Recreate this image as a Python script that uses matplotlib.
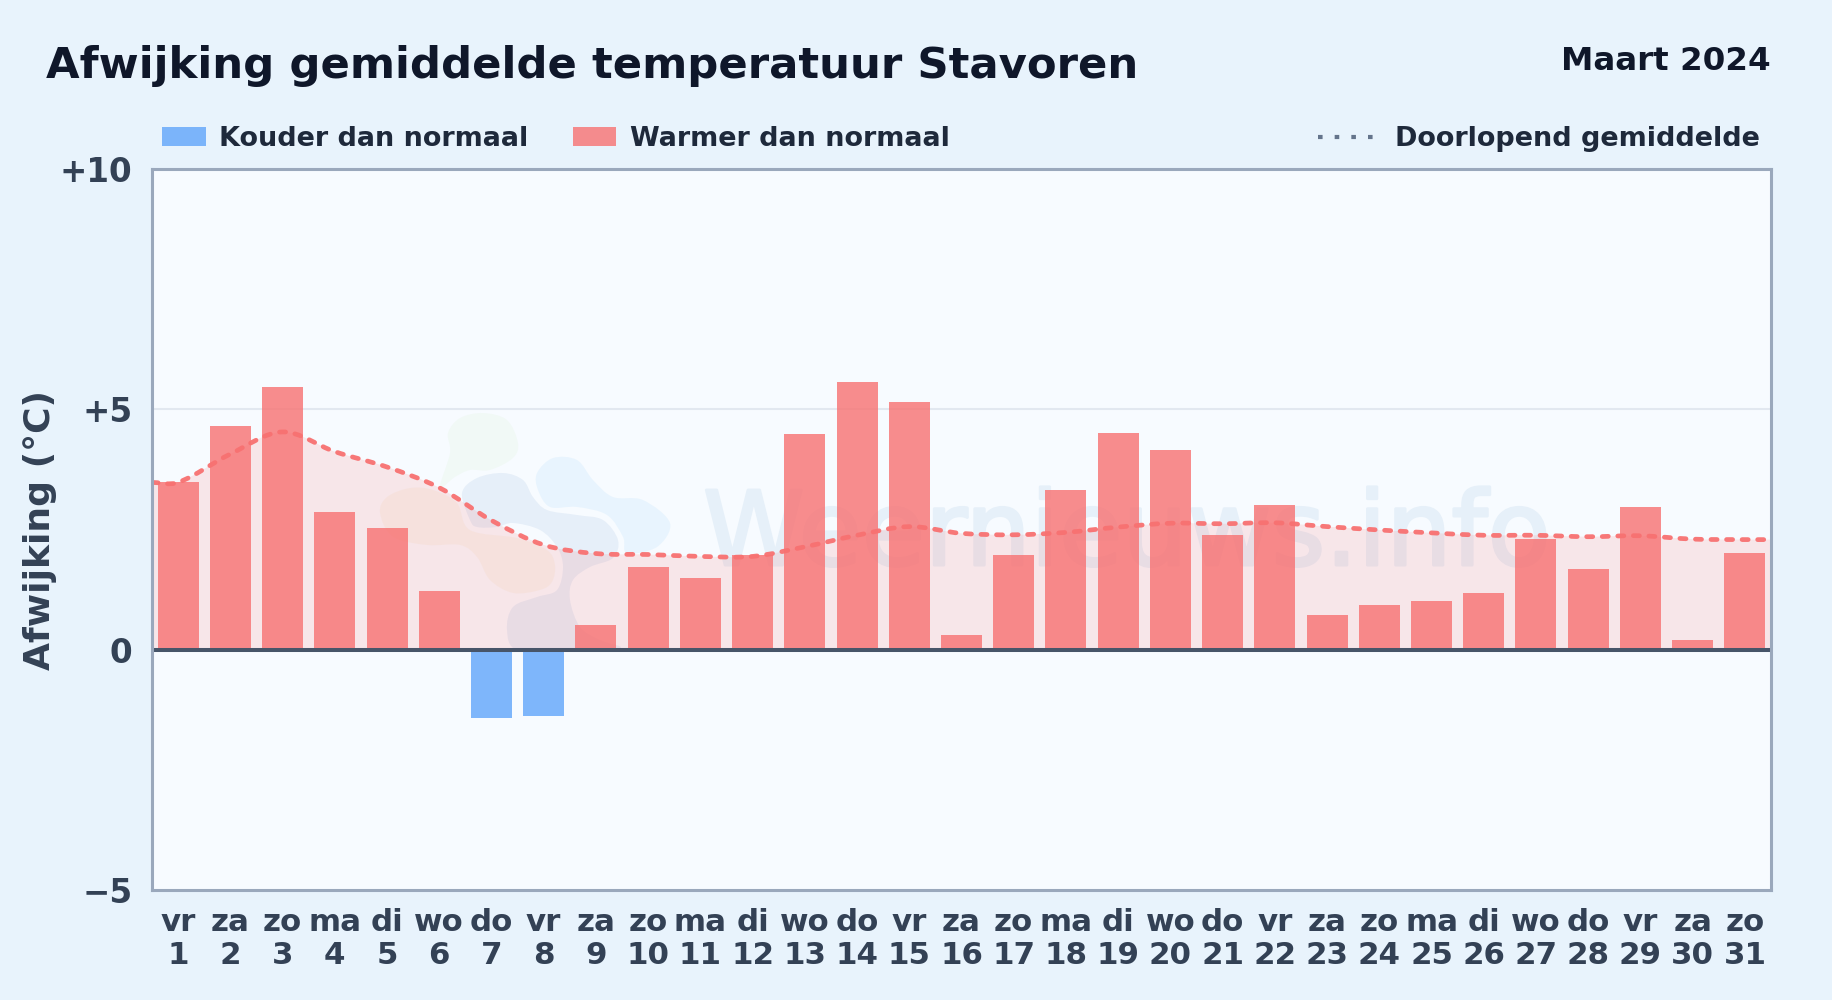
import numpy as np
import matplotlib
matplotlib.use('Agg')
import matplotlib.pyplot as plt
import matplotlib.patheffects as pe
from matplotlib.path import Path
from matplotlib.patches import PathPatch, Rectangle
from matplotlib.lines import Line2D
from matplotlib.transforms import Affine2D

plt.rcParams['font.family'] = 'DejaVu Sans'
plt.rcParams['font.weight'] = 'bold'
plt.rcParams['lines.scale_dashes'] = False

days = list(range(1, 32))
weekdays = ['vr', 'za', 'zo', 'ma', 'di', 'wo', 'do', 'vr', 'za', 'zo', 'ma', 'di', 'wo', 'do', 'vr', 'za',
            'zo', 'ma', 'di', 'wo', 'do', 'vr', 'za', 'zo', 'ma', 'di', 'wo', 'do', 'vr', 'za', 'zo']
deviation = [3.48, 4.65, 5.47, 2.87, 2.53, 1.22, -1.43, -1.38, 0.52, 1.73, 1.49, 1.97, 4.48, 5.57, 5.16, 0.30,
             1.97, 3.33, 4.50, 4.16, 2.38, 3.02, 0.73, 0.92, 1.02, 1.17, 2.31, 1.68, 2.97, 0.20, 2.02]
running_avg = [3.48, 4.07, 4.53, 4.12, 3.80, 3.37, 2.69, 2.18, 2.00, 1.98, 1.94, 1.94, 2.14, 2.38, 2.56, 2.42,
               2.39, 2.44, 2.55, 2.63, 2.62, 2.64, 2.56, 2.49, 2.43, 2.38, 2.38, 2.35, 2.37, 2.30, 2.29]
y_ticks = [-5, 0, 5, 10]
y_tick_labels = ['\u22125', '0', '+5', '+10']

# faint logo behind the bars, outlines in reference pixels
logo_green = [(448, 433), (460, 418), (483, 413), (507, 420), (518, 443), (513, 458), (490, 470), (470, 470),
              (455, 477), (440, 487), (450, 453)]
logo_orange = [(380, 513), (387, 497), (410, 488), (433, 490), (457, 503), (470, 530), (517, 538), (547, 550),
               (555, 565), (552, 582), (540, 590), (513, 593), (490, 580), (477, 557), (460, 545), (427, 545),
               (393, 537)]
logo_blue = [(537, 473), (553, 458), (577, 460), (593, 480), (613, 497), (643, 500), (670, 523), (657, 547),
             (627, 553), (623, 537), (607, 515), (577, 507), (550, 507), (538, 490)]
logo_navy = [(462, 493), (477, 478), (503, 473), (523, 480), (533, 497), (547, 510), (577, 515), (603, 520),
             (618, 540), (613, 558), (590, 567), (573, 580), (570, 600), (580, 627), (600, 640), (620, 648),
             (565, 650), (517, 650), (507, 630), (513, 607), (537, 597), (557, 590), (563, 567), (557, 547),
             (540, 530), (513, 523), (497, 527), (477, 527), (470, 520)]


def smooth_path(x, y, closed=False):
    # cubic segments through the points, catmull-rom style
    x = np.asarray(x, dtype=float)
    y = np.asarray(y, dtype=float)
    n = len(x)
    verts = [(x[0], y[0])]
    codes = [Path.MOVETO]
    last = n if closed else n - 1
    for i in range(last):
        if closed:
            p0, p1, p2, p3 = (i - 1) % n, i, (i + 1) % n, (i + 2) % n
            c1 = (x[p1] + (x[p2] - x[p0]) / 6, y[p1] + (y[p2] - y[p0]) / 6)
            c2 = (x[p2] - (x[p3] - x[p1]) / 6, y[p2] - (y[p3] - y[p1]) / 6)
        else:
            p0, p1, p2, p3 = max(i - 1, 0), i, i + 1, min(i + 2, n - 1)
            dx = x[p2] - x[p1]
            m1 = (y[p2] - y[p0]) / (x[p2] - x[p0])
            m2 = (y[p3] - y[p1]) / (x[p3] - x[p1])
            c1 = (x[p1] + dx / 3, y[p1] + m1 * dx / 3)
            c2 = (x[p2] - dx / 3, y[p2] - m2 * dx / 3)
        verts += [c1, c2, (x[p2], y[p2])]
        codes += [Path.CURVE4] * 3
    return verts, codes


fig = plt.figure(figsize=(18.32, 10), dpi=100, facecolor='#e8f3fc')
px = Affine2D().scale(1, -1).translate(0, 1000)  # reference pixels, y down

ax = fig.add_axes([152 / 1832, 110 / 1000, (1771 - 152) / 1832, 721 / 1000], facecolor='#f7fbff')
ax.set_xlim(0.5, 31.5)
ax.set_ylim(-5, 10)

ax.axhline(5, color='#e2e8f0', lw=1.5, zorder=1)

# watermark
for outline, colour in [(logo_green, (0.55, 0.85, 0.35, 0.05)), (logo_orange, (0.95, 0.70, 0.25, 0.07)),
                        (logo_blue, (0.25, 0.65, 0.98, 0.08)), (logo_navy, (0.15, 0.40, 0.70, 0.08))]:
    xs, ys = zip(*outline)
    verts, codes = smooth_path(xs, ys, closed=True)
    ax.add_patch(PathPatch(Path(verts, codes), facecolor=colour, edgecolor='none', transform=px, zorder=1.5))
ax.text(703, 565, 'Weernieuws.info', transform=px, fontsize=74, fontweight='normal', color='#e6f0f9',
        va='baseline', ha='left', zorder=1.6,
        path_effects=[pe.withStroke(linewidth=2.2, foreground='#e6f0f9')])

# running mean reaches both frame edges
line_x = [0.5] + days + [31.5]
line_y = [running_avg[0]] + running_avg + [running_avg[-1]]
verts, codes = smooth_path(line_x, line_y)
area = Path(verts + [(31.5, 0), (0.5, 0), (0.5, line_y[0])], codes + [Path.LINETO, Path.LINETO, Path.LINETO])
ax.add_patch(PathPatch(area, facecolor=(248 / 255, 113 / 255, 113 / 255, 0.15), edgecolor='none', zorder=2))

colours = [(96 / 255, 165 / 255, 250 / 255, 0.8) if v < 0 else (248 / 255, 113 / 255, 113 / 255, 0.8)
           for v in deviation]
ax.bar(days, deviation, width=0.785, color=colours, zorder=3)

ax.add_patch(PathPatch(Path(verts, codes), facecolor='none', edgecolor='#f87171', lw=3.4, alpha=0.95,
                       linestyle=(0, (4.4, 6.8)), capstyle='round', zorder=4))

ax.axhline(0, color='#475569', lw=2.9, zorder=5)

for s in ax.spines.values():
    s.set_color('#9aa8bc')
    s.set_linewidth(2.2)
    s.set_zorder(6)

ax.set_yticks(y_ticks)
ax.set_yticklabels(y_tick_labels)
ax.set_xticks(days)
ax.set_xticklabels([w + '\n' + str(d) for w, d in zip(weekdays, days)], linespacing=1.15)
ax.tick_params(axis='y', length=0, pad=14, labelsize=23.5, labelcolor='#334155')
ax.tick_params(axis='x', length=0, pad=13, labelsize=22.2, labelcolor='#334155')

fig.text(40, 530, 'Afwijking (\u00b0C)', transform=px, fontsize=26, color='#334155', rotation=90,
         ha='center', va='center')

# header
fig.text(46, 78, 'Afwijking gemiddelde temperatuur Stavoren', transform=px, fontsize=31.2, color='#0f172a',
         va='baseline', ha='left')
fig.text(1771, 70, 'Maart 2024', transform=px, fontsize=23.4, color='#0f172a', va='baseline', ha='right')

# legend drawn by hand, it sits on three spots
fig.add_artist(Rectangle((162, 127), 44, 19, transform=px, facecolor=(96 / 255, 165 / 255, 250 / 255, 0.8),
                         edgecolor='none'))
fig.add_artist(Rectangle((573, 127), 43, 19, transform=px, facecolor=(248 / 255, 113 / 255, 113 / 255, 0.8),
                         edgecolor='none'))
fig.text(219, 146, 'Kouder dan normaal', transform=px, fontsize=19.45, color='#1e293b', va='baseline')
fig.text(630, 146, 'Warmer dan normaal', transform=px, fontsize=19.45, color='#1e293b', va='baseline')
fig.add_artist(Line2D([1318, 1373], [137, 137], transform=px, color='#64748b', lw=3,
                      linestyle=(0, (3.3, 8.7)), dash_capstyle='butt'))
fig.text(1395, 146, 'Doorlopend gemiddelde', transform=px, fontsize=19.45, color='#1e293b', va='baseline')

fig.savefig('out.png', dpi=100, facecolor=fig.get_facecolor())
